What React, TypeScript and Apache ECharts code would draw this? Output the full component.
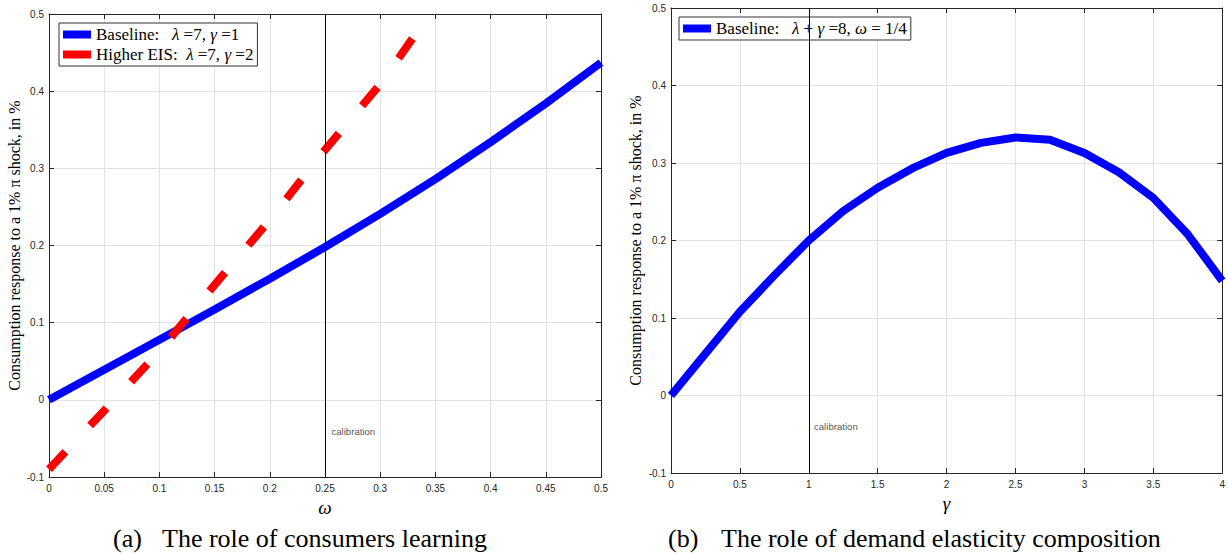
import React, { useEffect, useRef } from "react";
import * as echarts from "echarts";

// ---------- data ----------
const omegaGrid = [0, 0.05, 0.1, 0.15, 0.2, 0.25, 0.3, 0.35, 0.4, 0.45, 0.5];
const baselineOmega = [0, 0.039, 0.078, 0.117, 0.157, 0.198, 0.241, 0.286, 0.334, 0.384, 0.437];
const omegaEIS = [0, 0.05, 0.1, 0.15, 0.2, 0.25, 0.3, 0.335];
const higherEIS = [-0.09, -0.014, 0.063, 0.149, 0.233, 0.324, 0.409, 0.48];

const gammaGrid = [0, 0.25, 0.5, 0.75, 1, 1.25, 1.5, 1.75, 2, 2.25, 2.5, 2.75, 3, 3.25, 3.5, 3.75, 4];
const baselineGamma = [0, 0.054, 0.108, 0.155, 0.2, 0.238, 0.268, 0.293, 0.313, 0.326, 0.333, 0.33, 0.313, 0.288, 0.255, 0.208, 0.148];

const calibrationOmega = 0.25;
const calibrationGamma = 1;
const calibrationLabelA: [number, number] = [0.2554, -0.0415];
const calibrationLabelB: [number, number] = [1.034, -0.0405];

const nameA1 = "Baseline:   λ =7, γ =1";
const nameA2 = "Higher EIS:  λ =7, γ =2";
const nameB1 = "Baseline:   λ + γ =8, ω = 1/4";
const richNames: Record<string, string> = {
  [nameA1]: "Baseline:   {i|λ} =7, {i|γ} =1",
  [nameA2]: "Higher EIS:  {i|λ} =7, {i|γ} =2",
  [nameB1]: "Baseline:   {i|λ} + {i|γ} =8, {i|ω} = 1/4",
};

const yTitle = "Consumption response to a 1% π shock, in %";
const captionTagA = "(a)";
const captionTextA = "The role of consumers learning";
const captionTagB = "(b)";
const captionTextB = "The role of demand elasticity composition";

const SERIF = "Liberation Serif";
const SANS = "Liberation Sans";
const AXIS_COLOR = "#262626";

function fmt(v: number) {
  return String(+(+v).toFixed(2));
}

function mainX(gridIndex: number, min: number, max: number, interval: number, name: string, nameGap: number) {
  return {
    type: "value",
    gridIndex,
    min,
    max,
    interval,
    position: "bottom",
    name,
    nameLocation: "middle",
    nameGap,
    nameTextStyle: { fontFamily: SERIF, fontStyle: "italic", fontSize: 19, color: "#000" },
    axisLine: { show: true, onZero: false, lineStyle: { color: AXIS_COLOR, width: 1 } },
    axisTick: { show: true, inside: true, length: 5, lineStyle: { color: AXIS_COLOR } },
    axisLabel: { color: AXIS_COLOR, fontFamily: SANS, fontSize: 10, margin: 6, formatter: fmt },
    splitLine: { show: true, lineStyle: { color: "#e3e3e3", width: 1 } },
  };
}
function topX(gridIndex: number, min: number, max: number, interval: number) {
  return {
    type: "value",
    gridIndex,
    min,
    max,
    interval,
    position: "top",
    axisLine: { show: true, onZero: false, lineStyle: { color: AXIS_COLOR, width: 1 } },
    axisTick: { show: true, inside: true, length: 5, lineStyle: { color: AXIS_COLOR } },
    axisLabel: { show: false },
    splitLine: { show: false },
  };
}
function mainY(gridIndex: number, nameGap: number) {
  return {
    type: "value",
    gridIndex,
    min: -0.1,
    max: 0.5,
    interval: 0.1,
    position: "left",
    name: yTitle,
    nameLocation: "middle",
    nameGap,
    nameTextStyle: { fontFamily: SERIF, fontSize: 16, color: "#000" },
    axisLine: { show: true, onZero: false, lineStyle: { color: AXIS_COLOR, width: 1 } },
    axisTick: { show: true, inside: true, length: 5, lineStyle: { color: AXIS_COLOR } },
    axisLabel: { color: AXIS_COLOR, fontFamily: SANS, fontSize: 10, margin: 5, formatter: fmt },
    splitLine: { show: true, lineStyle: { color: "#e3e3e3", width: 1 } },
  };
}
function rightY(gridIndex: number) {
  return {
    type: "value",
    gridIndex,
    min: -0.1,
    max: 0.5,
    interval: 0.1,
    position: "right",
    axisLine: { show: true, onZero: false, lineStyle: { color: AXIS_COLOR, width: 1 } },
    axisTick: { show: true, inside: true, length: 5, lineStyle: { color: AXIS_COLOR } },
    axisLabel: { show: false },
    splitLine: { show: false },
  };
}

function calibLine(x: number) {
  return {
    silent: true,
    symbol: ["none", "none"],
    label: { show: false },
    lineStyle: { color: "#000", width: 1, type: "solid" },
    data: [{ xAxis: x }],
  };
}

function calibText(xi: number, yi: number, pos: [number, number]) {
  return {
    type: "scatter",
    xAxisIndex: xi,
    yAxisIndex: yi,
    data: [pos],
    symbolSize: 1,
    itemStyle: { color: "rgba(0,0,0,0)" },
    silent: true,
    label: {
      show: true,
      position: "right",
      distance: 0,
      formatter: "calibration",
      fontFamily: SANS,
      fontSize: 9.6,
      color: AXIS_COLOR,
    },
  };
}

const legendText = {
  fontFamily: SERIF,
  fontSize: 17,
  lineHeight: 16,
  color: "#000",
  rich: { i: { fontFamily: SERIF, fontStyle: "italic", fontSize: 17, lineHeight: 16, color: "#000" } },
};

function captionText(x: number, text: string) {
  return {
    type: "text",
    x,
    y: 538,
    style: {
      text,
      fontFamily: SERIF,
      fontSize: 26,
      fill: "#000",
      textAlign: "left",
      textVerticalAlign: "middle",
    },
  };
}

export default function App() {
  const ref = useRef<HTMLDivElement>(null);
  useEffect(() => {
    if (!ref.current) return;
    const chart = echarts.init(ref.current, undefined, { renderer: "svg" });
    chart.setOption({
      animation: false,
      backgroundColor: "#fff",
      grid: [
        { left: 49, top: 14, width: 552, height: 463 },
        { left: 671, top: 8, width: 553, height: 465 },
      ],
      xAxis: [
        mainX(0, 0, 0.5, 0.05, "ω", 17),
        topX(0, 0, 0.5, 0.05),
        mainX(1, 0, 4, 0.5, "γ", 14),
        topX(1, 0, 4, 0.5),
      ],
      yAxis: [mainY(0, 26), rightY(0), mainY(1, 28), rightY(1)],
      legend: [
        {
          data: [nameA1, nameA2],
          orient: "vertical",
          left: 59,
          top: 23,
          padding: [3, 4, 3, 4],
          itemGap: 3,
          itemWidth: 28,
          itemHeight: 8,
          icon: "rect",
          backgroundColor: "#fff",
          borderColor: "#333",
          borderWidth: 1,
          borderRadius: 0,
          textStyle: legendText,
          formatter: (n: string) => richNames[n] || n,
        },
        {
          data: [nameB1],
          orient: "vertical",
          left: 679,
          top: 17,
          padding: [3, 4, 3, 4],
          itemWidth: 28,
          itemHeight: 8,
          icon: "rect",
          backgroundColor: "#fff",
          borderColor: "#333",
          borderWidth: 1,
          borderRadius: 0,
          textStyle: legendText,
          formatter: (n: string) => richNames[n] || n,
        },
      ],
      series: [
        {
          name: nameA1,
          type: "line",
          xAxisIndex: 0,
          yAxisIndex: 0,
          data: omegaGrid.map((x, i) => [x, baselineOmega[i]]),
          showSymbol: false,
          symbol: "none",
          lineStyle: { color: "#0000ff", width: 8 },
          itemStyle: { color: "#0000ff" },
          markLine: calibLine(calibrationOmega),
          z: 3,
        },
        {
          name: nameA2,
          type: "line",
          xAxisIndex: 0,
          yAxisIndex: 0,
          data: omegaEIS.map((x, i) => [x, higherEIS[i]]),
          showSymbol: false,
          symbol: "none",
          lineStyle: { color: "#ff0000", width: 8, type: [24, 36], cap: "butt" },
          itemStyle: { color: "#ff0000" },
          z: 4,
        },
        {
          name: nameB1,
          type: "line",
          xAxisIndex: 2,
          yAxisIndex: 2,
          data: gammaGrid.map((x, i) => [x, baselineGamma[i]]),
          showSymbol: false,
          symbol: "none",
          lineStyle: { color: "#0000ff", width: 8, join: "round" },
          itemStyle: { color: "#0000ff" },
          markLine: calibLine(calibrationGamma),
          z: 3,
        },
        calibText(0, 0, calibrationLabelA),
        calibText(2, 2, calibrationLabelB),
      ],
      graphic: [
        captionText(113, captionTagA),
        captionText(162, captionTextA),
        captionText(668, captionTagB),
        captionText(721, captionTextB),
      ],
    });
    return () => chart.dispose();
  }, []);
  return (
    <div
      ref={ref}
      style={{ position: "fixed", left: 0, top: 0, width: 1228, height: 554, background: "#fff" }}
    />
  );
}
